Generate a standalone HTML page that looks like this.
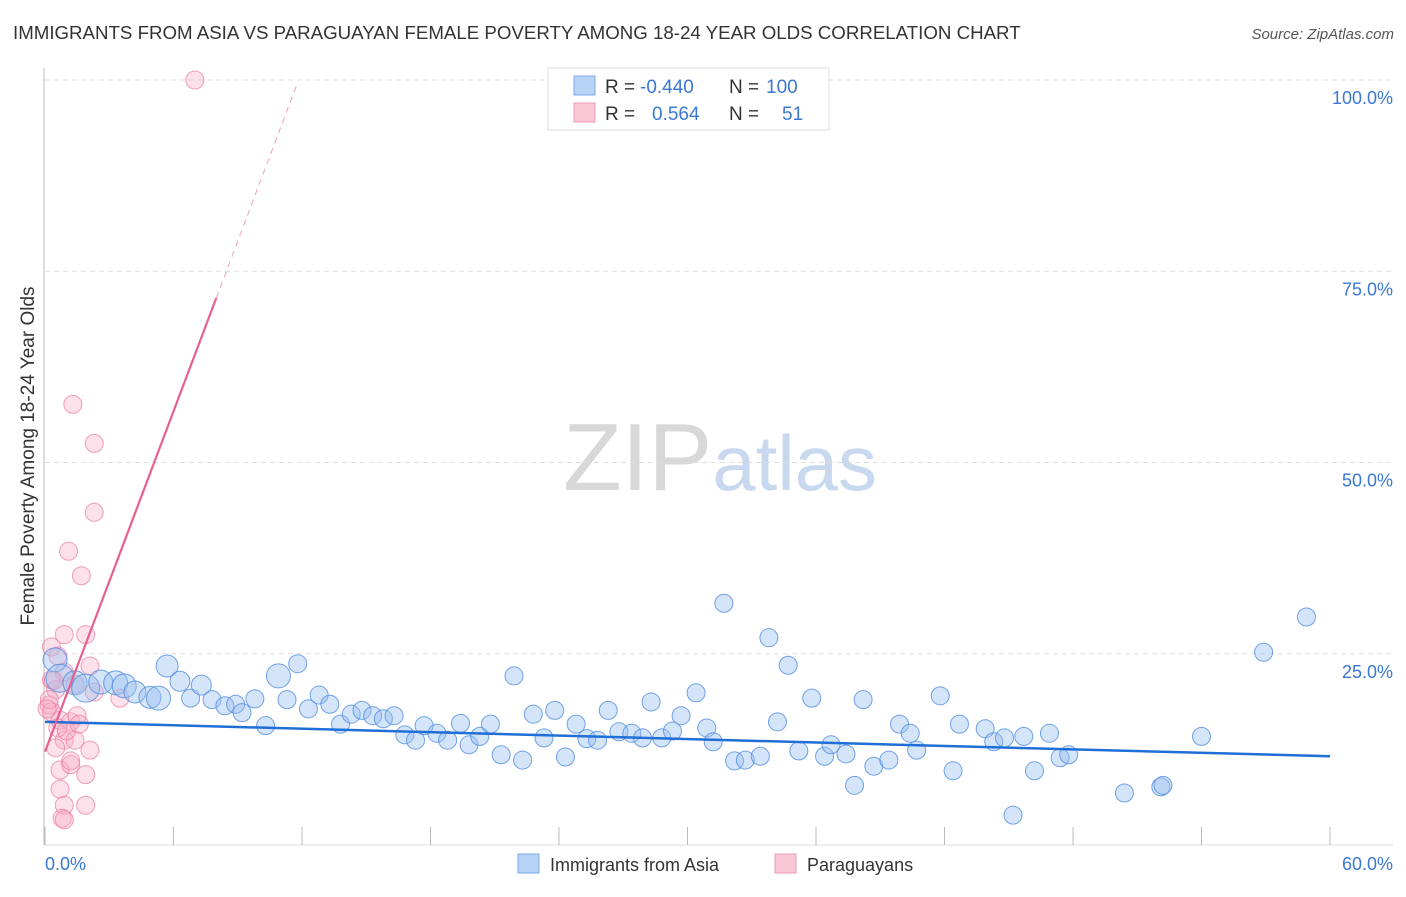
<!DOCTYPE html>
<html><head><meta charset="utf-8"><style>
body{margin:0;background:#fff;font-family:"Liberation Sans",sans-serif;}
svg text{font-family:"Liberation Sans",sans-serif;}
</style></head><body>
<svg id="chart" width="1406" height="892" xmlns="http://www.w3.org/2000/svg">
<text x="13" y="39" font-size="18.7" fill="#333">IMMIGRANTS FROM ASIA VS PARAGUAYAN FEMALE POVERTY AMONG 18-24 YEAR OLDS CORRELATION CHART</text>
<text x="1394" y="39" font-size="15" fill="#555" text-anchor="end" font-style="italic">Source: ZipAtlas.com</text>
<text x="720" y="490" font-size="96" text-anchor="middle" fill="#ddd" font-family="Liberation Serif"><tspan fill="#d8d8d8">ZIP</tspan><tspan fill="#c8d8ee" font-family="Liberation Sans" font-size="78">atlas</tspan></text>
<g id="grid"></g>
<g id="axes"></g>
<g id="pink"></g>
<g id="blue"></g>
<g id="lines"></g>
<text transform="translate(34,456) rotate(-90)" font-size="19" fill="#333" text-anchor="middle">Female Poverty Among 18-24 Year Olds</text>
<text x="45" y="870" font-size="18" fill="#3a78d4">0.0%</text>
<text x="1393" y="870" font-size="18" fill="#3a78d4" text-anchor="end">60.0%</text>
<g>
<rect x="548" y="68" width="281" height="62" fill="#fff" stroke="#ddd"/>
<rect x="574" y="76" width="21" height="19" fill="#b8d3f5" stroke="#7aa8e6"/>
<rect x="574" y="103" width="21" height="19" fill="#f9c6d5" stroke="#ee9ab4"/>
<text x="605" y="93" font-size="19" fill="#333">R = <tspan fill="#3a78d4" x="640">-0.440</tspan><tspan x="729">N = </tspan><tspan fill="#3a78d4" x="766">100</tspan></text>
<text x="605" y="120" font-size="19" fill="#333">R = <tspan fill="#3a78d4" x="652">0.564</tspan><tspan x="729">N = </tspan><tspan fill="#3a78d4" x="782">51</tspan></text>
</g>
<g>
<rect x="518" y="854" width="21" height="19" fill="#b8d3f5" stroke="#7aa8e6"/>
<text x="550" y="871" font-size="18" fill="#333">Immigrants from Asia</text>
<rect x="775" y="854" width="21" height="19" fill="#f9c6d5" stroke="#ee9ab4"/>
<text x="807" y="871" font-size="18" fill="#333">Paraguayans</text>
</g>
</svg>
<script>
const yTicks=[25,50,75,100];
const yTickLabels=["25.0%","50.0%","75.0%","100.0%"];
const xTicks=[0,6,12,18,24,30,36,42,48,54,60];
const blueX=[0.47,0.7,1.4,1.9,2.6,3.3,3.7,4.2,4.9,5.3,5.7,6.3,6.8,7.3,7.8,8.4,8.9,9.2,9.8,10.3,10.9,11.3,11.8,12.3,12.8,13.3,13.8,14.3,14.8,15.3,15.8,16.3,16.8,17.3,17.7,18.3,18.8,19.4,19.8,20.3,20.8,21.3,21.9,22.3,22.8,23.3,23.8,24.3,24.8,25.3,25.8,26.3,26.8,27.4,27.9,28.3,28.8,29.3,29.7,30.4,30.9,31.2,31.7,32.2,32.7,33.4,33.8,34.2,34.7,35.2,35.8,36.4,36.7,37.4,37.8,38.2,38.7,39.4,39.9,40.4,40.7,41.8,42.4,42.7,43.9,44.3,44.8,45.2,45.7,46.2,46.9,47.4,47.8,50.4,52.1,52.2,54.0,56.9,58.9];
const blueY=[24.2,21.8,21.2,20.5,21.3,21.2,20.8,20.0,19.3,19.2,23.4,21.4,19.2,20.9,19.0,18.2,18.4,17.3,19.1,15.6,22.1,19.0,23.7,17.8,19.6,18.4,15.8,17.1,17.6,16.9,16.5,16.9,14.4,13.7,15.6,14.6,13.7,15.9,13.1,14.2,15.8,11.8,22.1,11.1,17.1,14.0,17.6,11.5,15.8,13.9,13.7,17.6,14.8,14.6,14.0,18.7,14.0,14.9,16.9,19.9,15.3,13.5,31.6,11.0,11.1,11.6,27.1,16.1,23.5,12.3,19.2,11.6,13.1,11.9,7.8,19.0,10.3,11.1,15.8,14.6,12.4,19.5,9.7,15.8,15.2,13.5,14.0,3.9,14.2,9.7,14.6,11.4,11.8,6.8,7.6,7.8,14.2,25.2,29.8];
const blueR=[12,14,12,14,12,12,12,11,11,12,11,10,9,10,9,9,9,9,9,9,12,9,9,9,9,9,9,9,9,9,9,9,9,9,9,9,9,9,9,9,9,9,9,9,9,9,9,9,9,9,9,9,9,9,9,9,9,9,9,9,9,9,9,9,9,9,9,9,9,9,9,9,9,9,9,9,9,9,9,9,9,9,9,9,9,9,9,9,9,9,9,9,9,9,9,9,9,9,9];
const pinkX=[7.0,1.3,2.3,2.3,1.1,1.7,0.9,1.9,0.3,0.6,0.3,0.5,0.9,1.4,0.2,0.3,0.7,1.2,0.9,1.4,0.5,0.7,1.2,2.1,1.9,0.7,0.9,1.9,0.8,0.9,1.2,2.1,3.5,2.3,1.5,0.6,1.0,0.2,0.4,0.1,1.6];
const pinkY=[100,57.6,52.5,43.5,38.4,35.2,27.5,27.5,25.9,24.7,21.6,20.3,22.6,21.0,18.3,17.4,16.3,16.1,13.7,13.7,12.7,9.8,10.5,12.4,9.2,7.3,5.2,5.2,3.5,3.3,11.0,23.4,19.2,20.0,16.9,15.3,14.9,19.0,21.5,17.8,15.8];
const blueTrend=[16.1,11.6];
const pinkTrend=[12.2,99.7];
const X0=45,X1=1330,Y0=845,YT=80;
const sx=v=>X0+(X1-X0)*v/60;
const sy=v=>Y0-(Y0-YT)*v/100;
const NS="http://www.w3.org/2000/svg";
function mk(parent,tag,attrs){const e=document.createElementNS(NS,tag);for(const k in attrs)e.setAttribute(k,attrs[k]);document.getElementById(parent).appendChild(e);return e;}
yTicks.forEach((t,i)=>{
 const g=mk('grid','line',{x1:45,x2:1393,y1:sy(t),y2:sy(t),stroke:'#ddd','stroke-dasharray':'5,4'});
 
 
 const tx=mk('grid','text',{x:1393,y:sy(t)+24,'font-size':18,fill:'#3a78d4','text-anchor':'end'});
 tx.textContent=yTickLabels[i];
 
 
});
const ax=mk('axes','line',{x1:44,x2:44,y1:68,y2:845,stroke:'#bbb'});


const bx=mk('axes','line',{x1:44,x2:1393,y1:845,y2:845,stroke:'#ddd'});


xTicks.forEach(t=>{
 const l=mk('axes','line',{x1:sx(t),x2:sx(t),y1:827,y2:845,stroke:'#bbb'});
 
 
});
pinkX.forEach((x,i)=>{
 const c=mk('pink','circle',{cx:sx(x),cy:sy(pinkY[i]),r:9,fill:'rgba(246,170,195,0.35)',stroke:'rgba(236,120,160,0.7)','stroke-width':1});
 
 
});
blueX.forEach((x,i)=>{
 const c=mk('blue','circle',{cx:sx(x),cy:sy(blueY[i]),r:blueR[i],fill:'rgba(150,190,240,0.4)',stroke:'rgba(80,140,225,0.8)','stroke-width':1});
 
 
});
const bl=mk('lines','line',{x1:sx(0),y1:sy(blueTrend[0]),x2:sx(60),y2:sy(blueTrend[1]),stroke:'#1f6fd6','stroke-width':2.5});


const pslope=(pinkTrend[1]-pinkTrend[0])/11.8;
const pe=mk('lines','line',{x1:sx(0),y1:sy(pinkTrend[0]),x2:sx(8),y2:sy(pinkTrend[0]+pslope*8),stroke:'#e8608c','stroke-width':2.2});


const pd=mk('lines','line',{x1:sx(8),y1:sy(pinkTrend[0]+pslope*8),x2:sx(11.8),y2:sy(pinkTrend[1]),stroke:'#eea0b8','stroke-width':1,'stroke-dasharray':'6,5'});


</script>
</body></html>
